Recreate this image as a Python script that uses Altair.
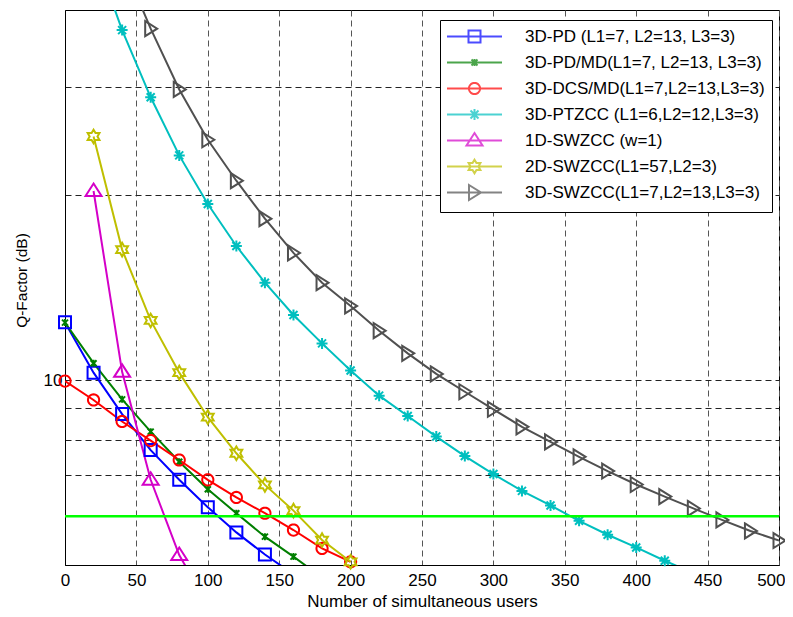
import math
import altair as alt
import pandas as pd

# ---------------- data ----------------
NAMES = [
    "3D-PD (L1=7, L2=13, L3=3)",
    "3D-PD/MD(L1=7, L2=13, L3=3)",
    "3D-DCS/MD(L1=7,L2=13,L3=3)",
    "3D-PTZCC (L1=6,L2=12,L3=3)",
    "1D-SWZCC (w=1)",
    "2D-SWZCC(L1=57,L2=3)",
    "3D-SWZCC(L1=7,L2=13,L3=3)",
]
COLORS = ["#0000ff", "#007f00", "#ff0000", "#00bfbf", "#d400c8", "#bfbf00", "#505050"]

X_PD = [0, 20, 40, 60, 80, 100, 120, 140, 160]
Y_PD = [12.41, 10.28, 8.80, 7.69, 6.88, 6.21, 5.65, 5.20, 4.83]

X_PDMD = [0, 20, 40, 60, 80, 100, 120, 140, 160, 180]
Y_PDMD = [12.40, 10.65, 9.30, 8.24, 7.36, 6.64, 6.07, 5.56, 5.16, 4.77]

X_DCS = [0, 20, 40, 60, 80, 100, 120, 140, 160, 180, 200]
Y_DCS = [9.96, 9.28, 8.56, 7.97, 7.41, 6.88, 6.44, 6.07, 5.70, 5.32, 5.06]

X_PTZ = [20, 40, 60, 80, 100, 120, 140, 160, 180, 200, 220, 240, 260, 280, 300,
         320, 340, 360, 380, 400, 420, 440]
Y_PTZ = [50.0, 37.1, 28.84, 23.2, 19.34, 16.52, 14.40, 12.76, 11.47, 10.36, 9.43,
         8.74, 8.09, 7.52, 7.03, 6.60, 6.25, 5.90, 5.60, 5.34, 5.08, 4.85]

X_1D = [20, 40, 60, 80, 100]
Y_1D = [20.3, 10.31, 6.88, 5.19, 4.30]

X_2D = [20, 40, 60, 80, 100, 120, 140, 160, 180, 200]
Y_2D = [24.9, 16.3, 12.5, 10.28, 8.70, 7.60, 6.75, 6.13, 5.49, 5.06]

X_3D = [40, 60, 80, 100, 120, 140, 160, 180, 200, 220, 240, 260, 280, 300, 320,
        340, 360, 380, 400, 420, 440, 460, 480, 500]
Y_3D = [48.0, 37.3, 29.7, 24.6, 21.1, 18.3, 16.1, 14.4, 13.2, 12.03, 11.05, 10.23,
        9.57, 8.96, 8.39, 7.93, 7.50, 7.11, 6.76, 6.46, 6.18, 5.92, 5.68, 5.48]

Q_THRESHOLD = [6]
X_TICKS = [0, 50, 100, 150, 200, 250, 300, 350, 400, 450, 500]
Y_GRID = [6, 7, 8, 9, 10, 20, 30]
X_DOMAIN = [0, 500]
Y_DOMAIN = [5, 40]

SERIES_X = [X_PD, X_PDMD, X_DCS, X_PTZ, X_1D, X_2D, X_3D]
SERIES_Y = [Y_PD, Y_PDMD, Y_DCS, Y_PTZ, Y_1D, Y_2D, Y_3D]

rows = []
for name, xs, ys in zip(NAMES, SERIES_X, SERIES_Y):
    for xv, yv in zip(xs, ys):
        rows.append({"series": name, "users": xv, "q": yv})
df = pd.DataFrame(rows)

# ---------------- marker shapes (pixel geometry around centre) ----------------
def poly(pts, closed=True):
    return (pts, closed)

def circle_pts(r, n=28):
    return [(r * math.cos(2 * math.pi * k / n), r * math.sin(2 * math.pi * k / n)) for k in range(n)]

def hexagram_pts(R):
    r = R / math.sqrt(3)
    pts = []
    for k in range(12):
        a = -math.pi / 2 + k * math.pi / 6
        rad = R if k % 2 == 0 else r
        pts.append((rad * math.cos(a), rad * math.sin(a)))
    return pts

MARKERS = [
    [poly([(-6, -6), (6, -6), (6, 6), (-6, 6)])],
    [poly([(-3, -3), (3, 3)], False), poly([(-3, 3), (3, -3)], False), poly([(0, -3.5), (0, 3.5)], False)],
    [poly(circle_pts(5.6))],
    [poly([(0, -5.5), (0, 5.5)], False), poly([(-5.5, 0), (5.5, 0)], False),
     poly([(-4, -4), (4, 4)], False), poly([(-4, 4), (4, -4)], False)],
    [poly([(0, -7.5), (8, 5), (-8, 5)])],
    [poly(hexagram_pts(6.8))],
    [poly([(-5.5, -7.5), (6.5, 0), (-5.5, 7.5)])],
]

LEG_LINE_HALF = 27.5  # half length of the legend line sample, px
LEG_HALF_HEIGHT = 7.5  # common vertical extent so every legend row is the same height

def to_path(geom, R, with_line=False):
    parts = []
    if with_line:
        h = LEG_LINE_HALF / R
        v = LEG_HALF_HEIGHT / R
        parts.append(f"M0,{-v:.4f}L0,{-v:.4f}M0,{v:.4f}L0,{v:.4f}")
        parts.append(f"M{-h:.4f},0H{h:.4f}")
    for pts, closed in geom:
        s = "M" + "L".join(f"{x / R:.4f},{y / R:.4f}" for x, y in pts)
        if closed:
            s += "Z"
        parts.append(s)
    return "".join(parts)

R_PLOT = 10.0
R_LEG = 8.5
PLOT_PATHS = [to_path(g, R_PLOT) for g in MARKERS]
LEG_PATHS = [to_path(g, R_LEG, True) for g in MARKERS]

FONT = "Liberation Sans"

x_enc = alt.X("users:Q", scale=alt.Scale(domain=X_DOMAIN, nice=False, zero=False),
              axis=alt.Axis(values=X_TICKS, grid=True, gridDash=[6, 4], gridColor="#555555",
                            gridOpacity=1, ticks=False, labelFontSize=17, labelPadding=7,
                            labelFont=FONT, labelColor="black", labelFlush=False,
                            labelOverlap=False, domainColor="black",
                            labelAlign={"expr": "datum.value == 500 ? 'right' : 'center'"},
                            labelOffset={"expr": "datum.value == 500 ? 6 : 0"},
                            title="Number of simultaneous users", titleFont=FONT,
                            titleFontSize=17, titleFontWeight="normal", titleColor="black",
                            titleY=41, titleBaseline="alphabetic"))
y_enc = alt.Y("q:Q", scale=alt.Scale(type="log", domain=Y_DOMAIN, nice=False),
              axis=alt.Axis(values=Y_GRID, labelExpr="datum.value == 10 ? '10' : ''",
                            grid=True, gridDash=[6, 4], gridColor="#222222", gridOpacity=1,
                            ticks=False, labelFontSize=17, labelPadding=3, labelFont=FONT,
                            labelColor="black", labelOverlap=False, domainColor="black",
                            title="Q-Factor (dB)", titleFont=FONT, titleFontSize=15.5,
                            titleFontWeight="normal", titleColor="black", titleX=-44,
                            titleY=270, titleAlign="center", titleBaseline="middle"))

color_plot = alt.Color("series:N", scale=alt.Scale(domain=NAMES, range=COLORS), legend=None)

lines = alt.Chart(df).mark_line(strokeWidth=2, clip=True).encode(
    x=x_enc, y=y_enc, color=color_plot, order="users:Q")

points = alt.Chart(df).transform_filter(
    (alt.datum.q >= Y_DOMAIN[0]) & (alt.datum.q <= Y_DOMAIN[1])
).mark_point(filled=False, strokeWidth=2, size=4 * R_PLOT ** 2, opacity=1).encode(
    x=x_enc, y=y_enc, color=color_plot,
    shape=alt.Shape("series:N", scale=alt.Scale(domain=NAMES, range=PLOT_PATHS), legend=None))

rule = alt.Chart(pd.DataFrame({"q": Q_THRESHOLD})).mark_rule(
    color="#00ff00", strokeWidth=2.5).encode(y=alt.Y("q:Q"))

leg = alt.Legend(title=None, orient="none", legendX=375, legendY=10, labelFont=FONT,
                 labelFontSize=17, labelColor="black", labelLimit=500,
                 symbolSize=4 * R_LEG ** 2, symbolStrokeWidth=2,
                 symbolOffset=18, labelOffset=41, gridAlign="all",
                 padding=7, rowPadding=1,
                 strokeColor="black", fillColor="white", cornerRadius=0)

legend_layer = alt.Chart(df).transform_filter("false").mark_point(
    filled=False, strokeWidth=2).encode(
    color=alt.Color("series:N", scale=alt.Scale(domain=NAMES, range=COLORS), legend=leg),
    shape=alt.Shape("series:N", scale=alt.Scale(domain=NAMES, range=LEG_PATHS), legend=leg))

chart = alt.layer(lines, points, rule, legend_layer).resolve_scale(
    color="independent", shape="independent"
).properties(
    width=714, height=555,
    autosize=alt.AutoSizeParams(type="none"),
    padding={"left": 57, "top": 2, "right": 6, "bottom": 44},
).configure_view(stroke="black", strokeWidth=1)

chart.save("out.html", embed_options={"renderer": "svg", "actions": False})
